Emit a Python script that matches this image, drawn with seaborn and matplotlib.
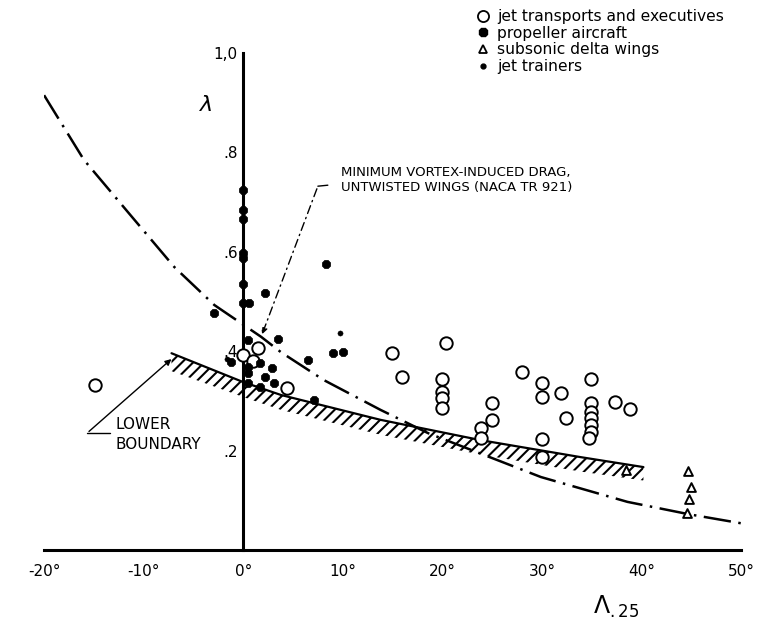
"""Taper ratio vs quarter-chord sweep for a range of aircraft types."""

import matplotlib.pyplot as plt
import seaborn as sns
from matplotlib.lines import Line2D

# jet transports and executives (open circles)
jet_sweep = [-14.9, 0.0, 1.5, 1.0, 4.4, 14.9, 16.0, 20.4, 20.0, 20.0, 20.0, 20.0,
             25.0, 25.0, 23.9, 23.9, 28.0, 30.0, 30.0, 31.9, 32.4, 30.0, 30.0,
             34.9, 34.9, 34.9, 34.9, 34.9, 34.9, 34.7, 37.3, 38.9]
jet_taper = [0.332, 0.392, 0.406, 0.380, 0.326, 0.396, 0.348, 0.416, 0.344, 0.318,
             0.306, 0.286, 0.296, 0.262, 0.246, 0.225, 0.358, 0.336, 0.308, 0.316,
             0.266, 0.223, 0.187, 0.344, 0.296, 0.278, 0.266, 0.252, 0.237, 0.225,
             0.298, 0.284]

# propeller aircraft (filled)
prop_sweep = [0, 0, 0, 0, 0, 0, 0, 0.6, -2.9, 2.2, 8.3, 0.5, 3.5, 9.0, 10.0,
              -1.2, 0.5, 0.5, 0.5, 1.7, 2.9, 2.2, 1.7, 3.1, 6.5, 7.1]
prop_taper = [0.724, 0.684, 0.666, 0.598, 0.588, 0.535, 0.497, 0.497, 0.477,
              0.517, 0.575, 0.422, 0.425, 0.396, 0.398, 0.378, 0.368, 0.356,
              0.336, 0.376, 0.366, 0.348, 0.328, 0.336, 0.382, 0.302]

# subsonic delta wings (open triangles)
delta_sweep = [38.4, 44.7, 45.0, 44.8, 44.6]
delta_taper = [0.161, 0.159, 0.127, 0.103, 0.074]

# jet trainers (small dots)
trainer_sweep = [9.7, -1.6]
trainer_taper = [0.437, 0.384]

# minimum vortex-induced drag, untwisted wings (NACA TR 921)
min_drag_sweep = [-20, -16, -11.5, -6.9, -2.9, 1.8, 3.8, 8.1, 13.8, 18.6,
                  29.9, 38.6, 44.8, 50]
min_drag_taper = [0.915, 0.785, 0.678, 0.569, 0.493, 0.429, 0.398, 0.342,
                  0.282, 0.235, 0.147, 0.097, 0.072, 0.054]

# lower boundary band
bound_sweep = [-7.2, 0, 3.8, 13.8, 23.9, 33.9, 40.2]
bound_top = [0.396, 0.338, 0.312, 0.262, 0.221, 0.187, 0.167]
bound_bot = [0.360, 0.308, 0.282, 0.232, 0.192, 0.158, 0.140]

x_ticks = [-20, -10, 0, 10, 20, 30, 40, 50]
x_labels = ["-20°", "-10°", "0°", "10°", "20°", "30°", "40°", "50°"]
y_ticks = [0.2, 0.4, 0.6, 0.8, 1.0]
y_labels = [".2", ".4", ".6", ".8", "1,0"]

sns.set_style("white")
plt.rcParams["hatch.linewidth"] = 1.5
plt.rcParams["text.color"] = "black"

fig = plt.figure(figsize=(7.6, 6.23), dpi=100)
ax = fig.add_axes([0.058, 0.117, 0.917, 0.798])

sns.lineplot(x=min_drag_sweep, y=min_drag_taper, ax=ax, color="black", lw=1.8,
             linestyle=(0, (11, 3, 1, 3)), sort=False)

ax.fill_between(bound_sweep, bound_bot, bound_top, facecolor="none",
                edgecolor="black", hatch="///", linewidth=0)
sns.lineplot(x=bound_sweep, y=bound_top, ax=ax, color="black", lw=1.6, sort=False)

sns.scatterplot(x=jet_sweep, y=jet_taper, ax=ax, marker="o", s=80,
                facecolor="white", edgecolor="black", linewidth=1.4, zorder=4)
sns.scatterplot(x=prop_sweep, y=prop_taper, ax=ax, marker="8", s=40,
                color="black", edgecolor="black", zorder=5)
sns.scatterplot(x=delta_sweep, y=delta_taper, ax=ax, marker="^", s=40,
                facecolor="white", edgecolor="black", linewidth=1.4, zorder=4)
sns.scatterplot(x=trainer_sweep, y=trainer_taper, ax=ax, marker="o", s=14,
                color="black", edgecolor="black", zorder=5)

ax.set_xlim(-20, 50)
ax.set_ylim(0, 1.0)
for side in ("top", "right"):
    ax.spines[side].set_visible(False)
ax.spines["left"].set_position(("data", 0))
ax.spines["left"].set_linewidth(2.2)
ax.spines["bottom"].set_linewidth(2.2)
ax.spines["left"].set_color("black")
ax.spines["bottom"].set_color("black")
ax.set_xticks(x_ticks, x_labels)
ax.set_yticks(y_ticks, y_labels)
ax.tick_params(axis="both", direction="in", length=11, width=1.2,
               labelsize=11, colors="black")
ax.tick_params(axis="x", pad=10)
ax.tick_params(axis="y", pad=4)

ax.text(-3.7, 0.895, r"$\lambda$", fontsize=16, ha="center", va="center")
ax.text(37.5, -0.115, r"$\Lambda_{.25}$", fontsize=17, ha="center", va="center",
        clip_on=False)

# annotation: minimum drag curve
ax.text(9.8, 0.745, "MINIMUM VORTEX-INDUCED DRAG,\nUNTWISTED WINGS (NACA TR 921)",
        fontsize=9.5, ha="left", va="center", linespacing=1.2)
ax.plot([8.5, 7.5], [0.734, 0.732], color="black", lw=1.0)
ax.annotate("", xy=(1.8, 0.429), xytext=(7.5, 0.732),
            arrowprops=dict(arrowstyle="-|>", color="black", lw=1.0,
                            linestyle=(0, (6, 3, 1, 3)), mutation_scale=9))

# annotation: lower boundary
ax.text(-12.8, 0.233, "LOWER\nBOUNDARY", fontsize=11, ha="left", va="center",
        linespacing=1.45)
ax.plot([-13.4, -15.7], [0.235, 0.235], color="black", lw=1.0)
ax.annotate("", xy=(-7.0, 0.388), xytext=(-15.7, 0.235),
            arrowprops=dict(arrowstyle="-|>", color="black", lw=1.0,
                            mutation_scale=9))

handles = [
    Line2D([], [], ls="", marker="o", ms=8, mfc="white", mec="black", mew=1.3),
    Line2D([], [], ls="", marker="8", ms=6, color="black"),
    Line2D([], [], ls="", marker="^", ms=6, mfc="white", mec="black", mew=1.3),
    Line2D([], [], ls="", marker="o", ms=3.5, color="black"),
]
labels = ["jet transports and executives", "propeller aircraft",
          "subsonic delta wings", "jet trainers"]
fig.legend(handles, labels, loc="upper left", bbox_to_anchor=(0.615, 1.0),
           frameon=False, fontsize=11.2, handlelength=0.8, handletextpad=0.5,
           labelspacing=0.1, borderaxespad=0.2, labelcolor="black")

fig.savefig("out.png", dpi=100)
